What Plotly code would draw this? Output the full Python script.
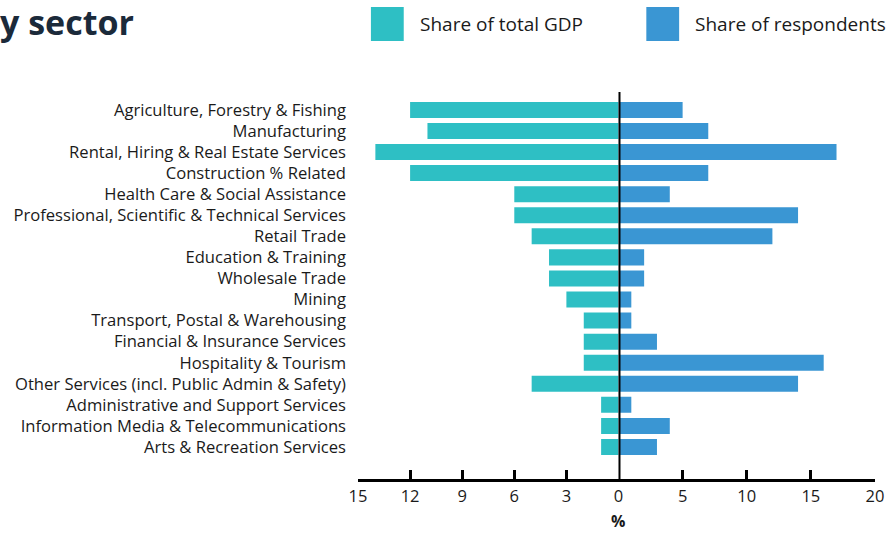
import plotly.graph_objects as go

categories = [
    "Agriculture, Forestry & Fishing",
    "Manufacturing",
    "Rental, Hiring & Real Estate Services",
    "Construction % Related",
    "Health Care & Social Assistance",
    "Professional, Scientific & Technical Services",
    "Retail Trade",
    "Education & Training",
    "Wholesale Trade",
    "Mining",
    "Transport, Postal & Warehousing",
    "Financial & Insurance Services",
    "Hospitality & Tourism",
    "Other Services (incl. Public Admin & Safety)",
    "Administrative and Support Services",
    "Information Media & Telecommunications",
    "Arts & Recreation Services",
]
gdp_share = [12, 11, 14, 12, 6, 6, 5, 4, 4, 3, 2, 2, 2, 5, 1, 1, 1]
respondent_share = [5, 7, 17, 7, 4, 14, 12, 2, 2, 1, 1, 3, 16, 14, 1, 4, 3]

left_ticks = [15, 12, 9, 6, 3, 0]
right_ticks = [5, 10, 15, 20]

TEAL = "#2ebfc4"
BLUE = "#3a96d3"
FONT = "Open Sans"
TXT = "#1a1a1a"

W, H = 896, 533
L, R, T, B = 358, 878, 92, 479
def px(x):
    return (x - L) / (R - L)
def py(y):
    return (B - y) / (B - T)

idx = list(range(len(categories)))
split = (620 - L) / (R - L)

fig = go.Figure()
fig.add_trace(go.Bar(
    y=idx, x=gdp_share, orientation="h", xaxis="x", yaxis="y",
    marker=dict(color=TEAL, line=dict(width=0)), width=0.76,
    name="Share of total GDP", showlegend=False, hoverinfo="x+text",
    hovertext=categories,
))
fig.add_trace(go.Bar(
    y=idx, x=respondent_share, orientation="h", xaxis="x2", yaxis="y",
    marker=dict(color=BLUE, line=dict(width=0)), width=0.76,
    name="Share of respondents", showlegend=False, hoverinfo="x+text",
    hovertext=categories,
))

axis_common = dict(
    showgrid=False, zeroline=False, showline=True, linecolor="#000",
    linewidth=3, ticks="inside", ticklen=9, tickwidth=3, tickcolor="#000",
    tickfont=dict(family=FONT, size=16.5, color=TXT), anchor="y",
)
fig.update_layout(
    width=W, height=H,
    margin=dict(l=L, r=W - R, t=T, b=H - B),
    paper_bgcolor="white", plot_bgcolor="white",
    bargap=0.24,
    xaxis=dict(domain=[0, split], range=[15, 0], tickvals=left_ticks,
               ticktext=[str(v) for v in left_ticks], **axis_common),
    xaxis2=dict(domain=[split, 1], range=[0, 20], tickvals=right_ticks,
                ticktext=[str(v) for v in right_ticks], **axis_common),
    yaxis=dict(range=[len(categories) - 1 + 1.52, -0.85], tickvals=idx,
               ticktext=categories, showgrid=False, zeroline=False,
               showline=False, ticks="", ticklabelstandoff=11,
               tickfont=dict(family=FONT, size=16.6, color=TXT)),
    showlegend=False,
)

# centre divider
fig.add_shape(type="line", xref="x2", yref="paper", x0=0, x1=0, y0=0, y1=1,
              line=dict(color="#000", width=4))

# legend
fig.add_shape(type="rect", xref="paper", yref="paper", x0=px(371), x1=px(404),
              y0=py(41), y1=py(7), fillcolor=TEAL, line=dict(width=0))
fig.add_shape(type="rect", xref="paper", yref="paper", x0=px(648), x1=px(681),
              y0=py(41), y1=py(7), fillcolor=BLUE, line=dict(width=0))
fig.add_annotation(xref="paper", yref="paper", x=px(418), y=py(24),
                   xanchor="left", yanchor="middle", showarrow=False,
                   text="Share of total GDP",
                   font=dict(family=FONT, size=19, color=TXT))
fig.add_annotation(xref="paper", yref="paper", x=px(695), y=py(24),
                   xanchor="left", yanchor="middle", showarrow=False,
                   text="Share of respondents",
                   font=dict(family=FONT, size=19, color=TXT))

# title (clipped at left in the original)
fig.add_annotation(xref="paper", yref="paper", x=px(-4), y=py(22),
                   xanchor="left", yanchor="middle", showarrow=False,
                   text="<b>y sector</b>",
                   font=dict(family=FONT, size=34, color="#1b2a3a"))

# axis title
fig.add_annotation(xref="paper", yref="paper", x=split, y=py(521),
                   xanchor="center", yanchor="middle", showarrow=False,
                   borderpad=0,
                   text="<b>%</b>", font=dict(family=FONT, size=16, color=TXT))

fig.write_html("out.html", config={"displayModeBar": False},
               post_script="document.body.style.margin='0';document.body.style.overflow='hidden';")
